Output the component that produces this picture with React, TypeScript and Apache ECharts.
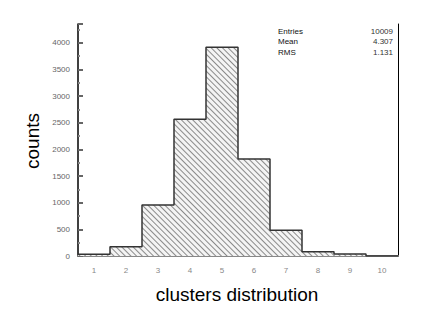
import React, { useEffect, useRef } from "react";
import * as echarts from "echarts";

const categories = ["1", "2", "3", "4", "5", "6", "7", "8", "9", "10"];
const counts = [31, 175, 957, 2566, 3912, 1821, 482, 81, 38, 0];
const binLeftEdges = [0.5, 1.5, 2.5, 3.5, 4.5, 5.5, 6.5, 7.5, 8.5, 9.5];
const yTickStep = 500;
const yMax = 4350;
const statLabels = ["Entries", "Mean", "RMS"];
const statValues = ["10009", "4.307", "1.131"];

export default function App() {
  const ref = useRef<HTMLDivElement>(null);
  useEffect(() => {
    if (!ref.current) return;
    const chart = echarts.init(ref.current, null, { renderer: "svg" });
    const stepData: number[][] = binLeftEdges.map((x, i) => [x, counts[i]]);
    stepData.push([binLeftEdges[binLeftEdges.length - 1] + 1, counts[counts.length - 1]]);
    const font = "'Liberation Sans', Arial, Helvetica, sans-serif";
    const statTexts: any[] = [];
    statLabels.forEach((l, i) => {
      statTexts.push({
        type: "text",
        left: 278,
        top: 27 + i * 10.5,
        style: { text: l, fontSize: 8, fill: "#111", font: `8px ${font}` },
      });
      statTexts.push({
        type: "text",
        right: 32,
        top: 27 + i * 10.5,
        style: { text: statValues[i], fontSize: 8, fill: "#333", font: `8px ${font}`, align: "right" },
      });
    });
    chart.setOption({
      animation: false,
      backgroundColor: "#fff",
      grid: { left: 78, right: 27, top: 24, bottom: 55, containLabel: false },
      xAxis: [
        {
          type: "category",
          data: categories,
          boundaryGap: true,
          position: "bottom",
          axisLine: { lineStyle: { color: "#000", width: 1.5 } },
          axisTick: { show: false },
          axisLabel: { color: "#888", fontSize: 8, fontFamily: font, margin: 10 },
          splitLine: { show: false },
        },
        {
          type: "value",
          min: 0.5,
          max: 10.5,
          position: "top",
          axisLine: { show: true, lineStyle: { color: "#888", width: 2 } },
          axisTick: { show: false },
          axisLabel: { show: false },
          splitLine: { show: false },
        },
      ],
      yAxis: [
        {
          type: "value",
          min: 0,
          max: yMax,
          interval: yTickStep,
          axisLine: { show: true, lineStyle: { color: "#000", width: 1.5 } },
          axisTick: { show: true, inside: true, length: 5, lineStyle: { color: "#666", width: 2 } },
          minorTick: { show: true, splitNumber: 2, length: 2, lineStyle: { color: "#888", width: 2 } },
          axisLabel: {
            color: "#666",
            fontSize: 8,
            fontFamily: font,
            margin: 8,
            formatter: (v: number) => (v % yTickStep === 0 ? String(v) : ""),
          },
          splitLine: { show: false },
        },
        {
          type: "value",
          min: 0,
          max: yMax,
          position: "right",
          axisLine: { show: true, lineStyle: { color: "#000", width: 1 } },
          axisTick: { show: false },
          axisLabel: { show: false },
          splitLine: { show: false },
        },
      ],
      series: [
        {
          type: "bar",
          xAxisIndex: 0,
          yAxisIndex: 0,
          data: counts,
          barCategoryGap: "0%",
          itemStyle: {
            color: "#f4f4f4",
            decal: {
              symbol: "rect",
              symbolSize: 1,
              dashArrayX: [[1, 0]],
              dashArrayY: [1, 3],
              rotation: Math.PI / 4,
              color: "#8a8a8a",
            },
          },
          z: 1,
        },
        {
          type: "line",
          xAxisIndex: 1,
          yAxisIndex: 0,
          data: stepData,
          step: "end",
          symbol: "none",
          lineStyle: { color: "#333", width: 1.5 },
          z: 3,
        },
      ],
      graphic: [
        ...statTexts,
        {
          type: "text",
          x: 32,
          y: 141,
          rotation: Math.PI / 2,
          style: { text: "counts", font: `19px ${font}`, fill: "#000", align: "center", verticalAlign: "middle" },
        },
        {
          type: "text",
          x: 237,
          y: 294,
          style: { text: "clusters distribution", font: `19px ${font}`, fill: "#000", align: "center", verticalAlign: "middle" },
        },
      ],
    });
    return () => chart.dispose();
  }, []);
  return <div ref={ref} style={{ width: 425, height: 311, position: "absolute", left: 0, top: 0 }} />;
}
